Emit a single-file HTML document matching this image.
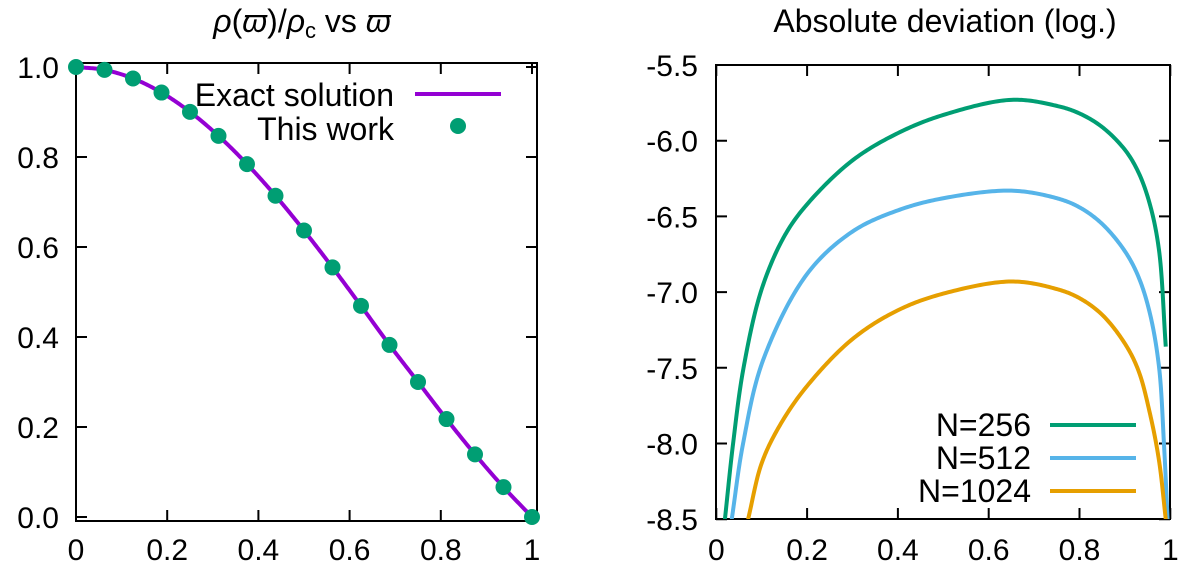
<!DOCTYPE html>
<html><head><meta charset="utf-8"><style>
html,body{margin:0;padding:0;background:#fff;}
svg{display:block;font-family:"Liberation Sans","DejaVu Sans",sans-serif;}
</style></head><body>
<svg id="chart" width="1200" height="576" viewBox="0 0 1200 576">
<text x="302" y="32" font-size="32" text-anchor="middle"><tspan font-style="italic">ρ</tspan>(<tspan font-style="italic">ϖ</tspan>)/<tspan font-style="italic">ρ</tspan><tspan font-size="22" dy="6">c</tspan><tspan dy="-6"> vs </tspan><tspan font-style="italic">ϖ</tspan></text>
<text x="945" y="32" font-size="32" text-anchor="middle">Absolute deviation (log.)</text>
<g id="left"></g>
<g id="right"></g>
</svg>
<script>
// Left chart data
const leftX = [0,0.0625,0.125,0.1875,0.25,0.3125,0.375,0.4375,0.5,0.5625,0.625,0.6875,0.75,0.8125,0.875,0.9375,1];
const leftY = [1,0.9936,0.9745,0.9432,0.9003,0.8469,0.7842,0.7139,0.6366,0.5546,0.4693,0.3824,0.3001,0.2177,0.1392,0.0664,0];
const leftXTicks = ["0","0.2","0.4","0.6","0.8","1"];
const leftYTicks = ["0.0","0.2","0.4","0.6","0.8","1.0"];
// Right chart data
const rightXTicks = ["0","0.2","0.4","0.6","0.8","1"];
const rightYTicks = ["-8.5","-8.0","-7.5","-7.0","-6.5","-6.0","-5.5"];
const n256X = [0.019,0.037,0.06,0.1,0.15,0.2,0.3,0.4,0.5,0.65,0.75,0.8,0.85,0.9,0.93,0.955,0.975,0.99];
const n256Y = [-8.5,-8.0,-7.5,-6.98,-6.63,-6.42,-6.13,-5.95,-5.83,-5.73,-5.77,-5.82,-5.91,-6.06,-6.21,-6.42,-6.72,-7.36];
const n512X = [0.034,0.059,0.103,0.2,0.3,0.4,0.5,0.65,0.75,0.8,0.85,0.9,0.93,0.955,0.975,0.986,0.994];
const n512Y = [-8.5,-8.0,-7.45,-6.88,-6.6,-6.46,-6.38,-6.33,-6.38,-6.44,-6.55,-6.73,-6.9,-7.14,-7.49,-8.0,-8.5];
const n1024X = [0.07,0.1,0.14,0.2,0.3,0.4,0.5,0.65,0.75,0.8,0.85,0.9,0.93,0.955,0.975,0.99];
const n1024Y = [-8.5,-8.13,-7.88,-7.62,-7.31,-7.12,-7.01,-6.93,-6.98,-7.04,-7.15,-7.34,-7.52,-7.8,-8.11,-8.5];

const NS="http://www.w3.org/2000/svg";
function mk(tag, attrs, parent){const e=document.createElementNS(NS,tag);for(const k in attrs)e.setAttribute(k,attrs[k]);parent.appendChild(e);return e;}
// centripetal Catmull-Rom through points in pixel space
function crPath(xs, ys, sx, sy){
  const P=xs.map((x,i)=>[sx(x),sy(ys[i])]);
  const n=P.length;
  const ext=[[2*P[0][0]-P[1][0],2*P[0][1]-P[1][1]],...P,[2*P[n-1][0]-P[n-2][0],2*P[n-1][1]-P[n-2][1]]];
  const lerp=(a,b,ta,tb,t)=>{const w=(tb===ta)?0:(t-ta)/(tb-ta);return [a[0]+(b[0]-a[0])*w,a[1]+(b[1]-a[1])*w];};
  let d="M"+P[0][0].toFixed(2)+","+P[0][1].toFixed(2);
  for(let i=1;i<ext.length-2;i++){
    const p0=ext[i-1],p1=ext[i],p2=ext[i+1],p3=ext[i+2];
    const dist=(a,b)=>Math.max(1e-4,Math.pow(Math.hypot(b[0]-a[0],b[1]-a[1]),0.5));
    const t0=0,t1=t0+dist(p0,p1),t2=t1+dist(p1,p2),t3=t2+dist(p2,p3);
    for(let k=1;k<=24;k++){
      const t=t1+(t2-t1)*k/24;
      const A1=lerp(p0,p1,t0,t1,t),A2=lerp(p1,p2,t1,t2,t),A3=lerp(p2,p3,t2,t3,t);
      const B1=lerp(A1,A2,t0,t2,t),B2=lerp(A2,A3,t1,t3,t);
      const C=lerp(B1,B2,t1,t2,t);
      d+=" L"+C[0].toFixed(2)+","+C[1].toFixed(2);
    }
  }
  return d;
}
function frame(g,L,R,T,B){
  const r=mk('rect',{x:L,y:T,width:R-L,height:B-T,fill:'none',stroke:'#000','stroke-width':2},g);
  
  
}

// LEFT
(function(){
  const g=document.getElementById('left');
  const L=76,R=537,T=63,B=521;
  const sx=v=>76+v*456, sy=v=>517-v*450;
  frame(g,L,R,T,B);
  leftXTicks.forEach(t=>{const v=parseFloat(t),x=sx(v);
    const tk=mk('path',{d:`M${x},${B}v-11M${x},${T}v11`,stroke:'#000','stroke-width':2},g);
    
    
    const tx=mk('text',{x:x,y:560,'font-size':30,'text-anchor':'middle'},g);tx.textContent=t;
    
    
  });
  leftYTicks.forEach(t=>{const v=parseFloat(t),y=sy(v);
    const tk=mk('path',{d:`M${L},${y}h11M${R},${y}h-11`,stroke:'#000','stroke-width':2},g);
    
    
    const tx=mk('text',{x:59,y:y+11,'font-size':30,'text-anchor':'end'},g);tx.textContent=t;
    
    
  });
  const ln=mk('path',{d:crPath(leftX,leftY,sx,sy),fill:'none',stroke:'#9400d3','stroke-width':4},g);
  
  
  leftX.forEach((x,i)=>{const c=mk('circle',{cx:sx(x),cy:sy(leftY[i]),r:8,fill:'#009e73'},g);
    
    });
  const t1=mk('text',{x:394,y:106,'font-size':32,'text-anchor':'end'},g);t1.textContent='Exact solution';
  
  
  const l1=mk('line',{x1:415,y1:94,x2:501,y2:94,stroke:'#9400d3','stroke-width':4},g);
  
  
  const t2=mk('text',{x:394,y:140,'font-size':32,'text-anchor':'end'},g);t2.textContent='This work';
  
  
  const c2=mk('circle',{cx:458,cy:126,r:8,fill:'#009e73'},g);
  
  
})();

// RIGHT
(function(){
  const g=document.getElementById('right');
  const L=716,R=1170,T=65,B=519;
  const sx=v=>716.3+v*454, sy=v=>65+(-5.5-v)*151.4;
  const clip=mk('clipPath',{id:'rc'},g);mk('rect',{x:L,y:T,width:R-L,height:B-T},clip);
  frame(g,L,R,T,B);
  rightXTicks.forEach(t=>{const v=parseFloat(t),x=sx(v);
    const tk=mk('path',{d:`M${x},${B}v-11M${x},${T}v11`,stroke:'#000','stroke-width':2},g);
    
    
    const tx=mk('text',{x:x,y:560,'font-size':30,'text-anchor':'middle'},g);tx.textContent=t;
    
    
  });
  rightYTicks.forEach(t=>{const v=parseFloat(t),y=sy(v);
    const tk=mk('path',{d:`M${L},${y}h11M${R},${y}h-11`,stroke:'#000','stroke-width':2},g);
    
    
    const tx=mk('text',{x:698,y:y+11,'font-size':30,'text-anchor':'end'},g);tx.textContent=t;
    
    
  });
  const series=[[n256X,n256Y,'#009e73','N=256','n256'],[n512X,n512Y,'#56b4e9','N=512','n512'],[n1024X,n1024Y,'#e69f00','N=1024','n1024']];
  series.forEach((s,k)=>{
    const p=mk('path',{d:crPath(s[0],s[1],sx,sy),fill:'none',stroke:s[2],'stroke-width':4,'clip-path':'url(#rc)'},g);
    
    
    const y=425+k*33;
    const tx=mk('text',{x:1031,y:y+11,'font-size':32,'text-anchor':'end'},g);tx.textContent=s[3];
    
    
    const ln=mk('line',{x1:1050,y1:y,x2:1136,y2:y,stroke:s[2],'stroke-width':4},g);
    
    
  });
})();
</script>
</body></html>
